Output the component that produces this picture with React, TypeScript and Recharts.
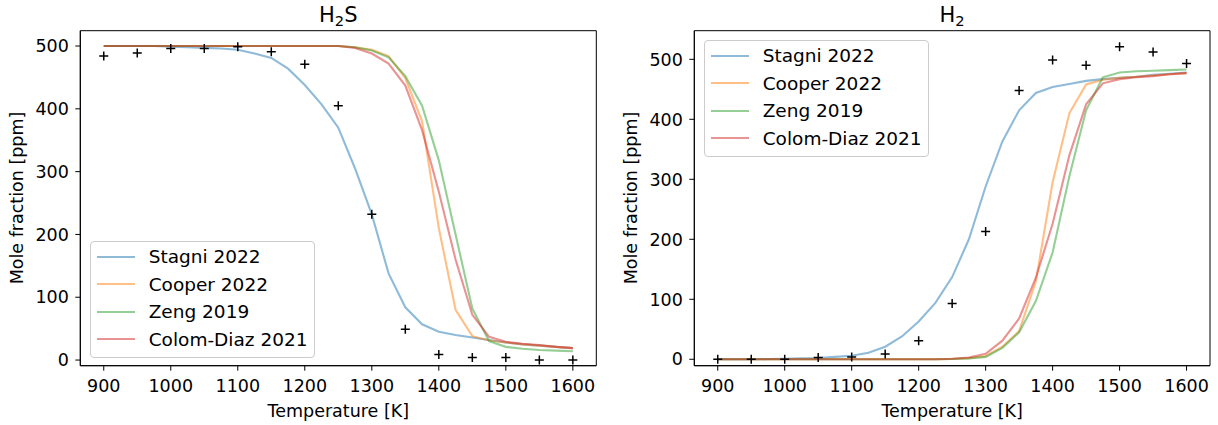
import { ComposedChart, Line, Scatter, XAxis, YAxis, Legend, ReferenceArea, Label } from 'recharts';

const FONT = '"DejaVu Sans", "Liberation Sans", sans-serif';
const FS = 17.5;
const LEGEND_FS = 18.5;

// model temperature grid [K]
const temps = [900, 925, 950, 975, 1000, 1025, 1050, 1075, 1100, 1125, 1150, 1175, 1200, 1225, 1250,
  1275, 1300, 1325, 1350, 1375, 1400, 1425, 1450, 1475, 1500, 1525, 1550, 1575, 1600];

// H2S mole fraction [ppm]
const h2sStagni = [500, 500, 500, 500, 499, 498, 497, 496, 494, 488, 481, 464, 438, 407, 370,
  305, 232, 138, 84, 57, 45, 40, 36, 32, 28, 25, 23, 21, 19];
const h2sCooper = [500, 500, 500, 500, 500, 500, 500, 500, 500, 500, 500, 500, 500, 500, 500,
  498, 494, 484, 449, 380, 210, 80, 38, 31, 28, 25, 23, 21, 19];
const h2sZeng = [500, 500, 500, 500, 500, 500, 500, 500, 500, 500, 500, 500, 500, 500, 500,
  498, 493, 482, 452, 405, 318, 200, 82, 30, 21, 18, 16, 15, 14];
const h2sColom = [500, 500, 500, 500, 500, 500, 500, 500, 500, 500, 500, 500, 500, 500, 500,
  497, 488, 472, 437, 366, 268, 160, 72, 37, 29, 26, 24, 21, 19];

// H2 mole fraction [ppm]
const h2Stagni = [0, 0, 0, 0.5, 1, 1.5, 2, 4, 6, 11, 21, 38, 63, 94, 137,
  200, 288, 363, 415, 444, 454, 459, 464, 467, 469, 471, 474, 476, 478];
const h2Cooper = [0, 0, 0, 0, 0, 0, 0, 0, 0, 0, 0, 0, 0, 0, 0.5,
  2, 5, 21, 47, 130, 295, 410, 458, 466, 469, 471, 473, 475, 477];
const h2Zeng = [0, 0, 0, 0, 0, 0, 0, 0, 0, 0, 0, 0, 0, 0, 0.5,
  1.5, 4, 19, 45, 97, 178, 305, 415, 470, 478, 480, 481, 482, 483];
const h2Colom = [0, 0, 0, 0, 0, 0, 0, 0, 0, 0, 0, 0, 0, 0, 1,
  3, 9, 31, 68, 136, 226, 340, 425, 460, 467, 470, 472, 475, 477];

// experiments
const expTemps = [900, 950, 1000, 1050, 1100, 1150, 1200, 1250, 1300, 1350, 1400, 1450, 1500, 1550, 1600];
const h2sExp = [484, 489, 496, 496, 499, 491, 471, 405, 232, 49, 9, 4, 4, 0, 0];
const h2Exp = [0, 0, 0, 3, 4, 9, 31, 93, 213, 448, 499, 490, 521, 512, 493];

const seriesNames = ['Stagni 2022', 'Cooper 2022', 'Zeng 2019', 'Colom-Diaz 2021'];
const seriesKeys = ['stagni', 'cooper', 'zeng', 'colom'];
const seriesColors = ['#1f77b4', '#ff7f0e', '#2ca02c', '#d62728'];

const xTicks = [900, 1000, 1100, 1200, 1300, 1400, 1500, 1600];
const yTicks = [0, 100, 200, 300, 400, 500];

function buildRows(a: number[], b: number[], c: number[], d: number[]) {
  return temps.map((T, i) => ({ T, stagni: a[i], cooper: b[i], zeng: c[i], colom: d[i] }));
}
function buildExp(v: number[]) {
  return expTemps.map((T, i) => ({ T, v: v[i] }));
}

function Plus(props: any) {
  const { cx, cy } = props;
  if (cx == null || cy == null) return null;
  const s = 4.5;
  return <path d={`M${cx - s},${cy}H${cx + s}M${cx},${cy - s}V${cy + s}`} stroke="#000" strokeWidth={1.5} fill="none" />;
}

function LegendBox() {
  return (
    <div style={{ width: 225, height: 117, boxSizing: 'border-box', border: '1px solid #cccccc', borderRadius: 4, background: 'rgba(255,255,255,0.8)', paddingTop: 1, fontFamily: FONT, fontSize: LEGEND_FS, color: '#000' }}>
      {seriesNames.map((n, i) => (
        <div key={n} style={{ display: 'flex', alignItems: 'center', height: 27.5 }}>
          <svg width={38} height={6} style={{ marginLeft: 5.7, display: 'block' }}>
            <line x1={0} y1={3} x2={38} y2={3} stroke={seriesColors[i]} strokeOpacity={0.5} strokeWidth={2.1} />
          </svg>
          <span style={{ marginLeft: 14, whiteSpace: 'nowrap', lineHeight: '27.5px' }}>{n}</span>
        </div>
      ))}
    </div>
  );
}

type PanelProps = {
  title: string;
  sub: string;
  rest: string;
  data: any[];
  exp: any[];
  yDomain: [number, number];
  yWidth: number;
  right: number;
  legendX: number;
  legendY: number;
  yLabelX: number;
};

function Panel(p: PanelProps) {
  const top = 30.7;
  const plotCx = p.yWidth + (609 - p.yWidth - p.right) / 2;
  return (
    <div style={{ position: 'relative', width: 609, height: 425 }}>
      <div style={{ position: 'absolute', left: plotCx - 100, width: 200, top: 5, textAlign: 'center', fontSize: 21, lineHeight: '21px', fontFamily: FONT }}>
        {p.title}<span style={{ fontSize: '0.7em', position: 'relative', top: 3.5 }}>{p.sub}</span>{p.rest}
      </div>
      <ComposedChart width={609} height={425} data={p.data} margin={{ top, right: p.right, bottom: 0, left: 0 }} style={{ fontFamily: FONT }}>
        <XAxis dataKey="T" type="number" domain={[865, 1635]} ticks={xTicks} interval={0} allowDataOverflow
          height={425 - 365.7} tickSize={5} tickMargin={8.5} stroke="#000" tick={{ fill: '#000', fontSize: FS }}>
          <Label content={() => <text x={plotCx} y={416.5} textAnchor="middle" fontSize={FS} fill="#000">Temperature [K]</text>} />
        </XAxis>
        <YAxis type="number" domain={p.yDomain} ticks={yTicks} interval={0} allowDataOverflow
          width={p.yWidth} tickSize={5} tickMargin={6.5} stroke="#000" tick={{ fill: '#000', fontSize: FS }}>
          <Label content={() => <text x={p.yLabelX} y={198} transform={`rotate(-90, ${p.yLabelX}, 198)`} textAnchor="middle" fontSize={FS} fill="#000">Mole fraction [ppm]</text>} />
        </YAxis>
        <ReferenceArea x1={865} x2={1635} y1={p.yDomain[0]} y2={p.yDomain[1]} fill="none" stroke="#000" strokeWidth={1} ifOverflow="visible" />
        {seriesKeys.map((k, i) => (
          <Line key={k} type="linear" dataKey={k} name={seriesNames[i]} stroke={seriesColors[i]} strokeOpacity={0.5} strokeWidth={2.1} dot={false} isAnimationActive={false} />
        ))}
        <Scatter data={p.exp} dataKey="v" shape={<Plus />} isAnimationActive={false} legendType="none" />
        <Legend layout="vertical" align="center" verticalAlign="middle" content={() => <LegendBox />}
          wrapperStyle={{ left: p.legendX, top: p.legendY, width: 225, height: 117 }} />
      </ComposedChart>
    </div>
  );
}

export default function App() {
  return (
    <div style={{ position: 'absolute', left: 0, top: 0, width: 1218, height: 425, background: '#fff', display: 'flex', fontFamily: FONT }}>
      <Panel title="H" sub="2" rest="S" data={buildRows(h2sStagni, h2sCooper, h2sZeng, h2sColom)} exp={buildExp(h2sExp)}
        yDomain={[-9, 524.4]} yWidth={80.3} right={12.7} legendX={90} legendY={241} yLabelX={23} />
      <Panel title="H" sub="2" rest="" data={buildRows(h2Stagni, h2Cooper, h2Zeng, h2Colom)} exp={buildExp(h2Exp)}
        yDomain={[-10.7, 547.7]} yWidth={85.3} right={8} legendX={95} legendY={40} yLabelX={28} />
    </div>
  );
}
